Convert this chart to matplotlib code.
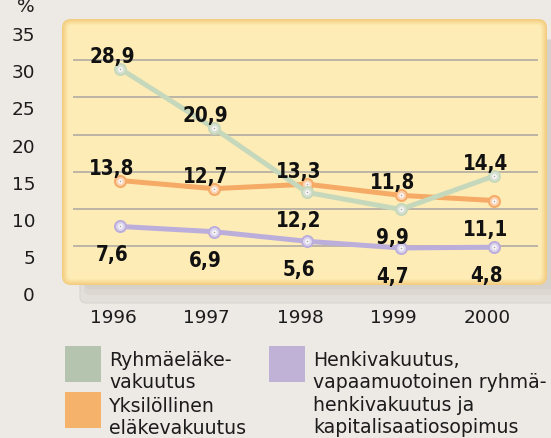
import matplotlib
matplotlib.use('Agg')
import matplotlib.pyplot as plt
import numpy as np
from matplotlib.patches import FancyBboxPatch, Rectangle
from matplotlib.transforms import ScaledTranslation

# ---- data ----
years = [1996, 1997, 1998, 1999, 2000]
ryhma = [28.9, 20.9, 12.2, 9.9, 14.4]
yksilo = [13.8, 12.7, 13.3, 11.8, 11.1]
henki = [7.6, 6.9, 5.6, 4.7, 4.8]
ryhma_pos = ['above', 'above', 'below', 'below', 'above']
yksilo_pos = ['above', 'above', 'above', 'above', 'below']
henki_pos = ['below'] * 5
yticks = [0, 5, 10, 15, 20, 25, 30, 35]
grid_vals = [5, 10, 15, 20, 25, 30]
legend_labels = ['Ryhmäeläke-\nvakuutus', 'Yksilöllinen\neläkevakuutus',
                 'Henkivakuutus,\nvapaamuotoinen ryhmä-\nhenkivakuutus ja\nkapitalisaatiosopimus']

# ---- style ----
W, H, DPI = 551, 438, 100
PT = 72.0 / DPI   # points per pixel
BG = '#ede9e5'
TXT = '#1c1c1c'
tick_font = dict(family='DejaVu Sans', size=13.3, color=TXT)
lab_font = dict(family='DejaVu Sans', stretch='condensed', size=14.8,
                weight='bold', color='#111111')

series = [
    (henki, henki_pos, '#bcaedb', '#ddd5ee', '#bfb2d6'),
    (yksilo, yksilo_pos, '#f5aa66', '#fbd3b2', '#f5b26b'),
    (ryhma, ryhma_pos, '#c6d8bb', '#d9e1d4', '#b5c4ae'),
]

fig = plt.figure(figsize=(W / DPI, H / DPI), dpi=DPI, facecolor=BG)

# background axes in pixel coordinates
bg = fig.add_axes([0, 0, 1, 1], zorder=0)
bg.set_xlim(0, W)
bg.set_ylim(H, 0)
bg.axis('off')

# shadow panel behind
bg.add_patch(FancyBboxPatch((80, 40), 500, 263, boxstyle='round,pad=0,rounding_size=6',
                            fc='#e2ded9', ec='#d8d4cf', lw=0.8))
bg.add_patch(FancyBboxPatch((84, 40), 496, 255, boxstyle='round,pad=0,rounding_size=6',
                            fc='#dcd7d1', ec='none'))
bg.add_patch(FancyBboxPatch((84, 40), 496, 249, boxstyle='round,pad=0,rounding_size=6',
                            fc='#d6d1cb', ec='none'))

# yellow panel with soft bevel
x0, y0, x1, y1 = 62, 19, 547, 285
c_out = np.array([0xf3, 0xcd, 0x7f]) / 255.
c_in = np.array([0xfe, 0xec, 0xb6]) / 255.
steps = 7
for i in range(steps):
    t = i / (steps - 1)
    col = c_out * (1 - t) + c_in * t
    ins = i * 1.0
    bg.add_patch(FancyBboxPatch((x0 + ins, y0 + ins), (x1 - x0) - 2 * ins, (y1 - y0) - 2 * ins,
                                boxstyle='round,pad=0,rounding_size=%g' % max(9 - ins, 2),
                                fc=col, ec='none'))

# percent sign (top cut)
bg.text(26, 12, '%', ha='center', va='baseline', **tick_font)

# legend
sq = 36
leg_pos = [(65, 346), (65, 392), (269, 346)]
leg_cols = [series[2][4], series[1][4], series[0][4]]
for (lx, ly), col, lab in zip(leg_pos, leg_cols, legend_labels):
    bg.add_patch(Rectangle((lx, ly), sq, sq, fc=col, ec='none'))
    bg.text(lx + 44, ly + 4.5, lab, ha='left', va='top', family='DejaVu Sans',
            size=13.6, color=TXT, linespacing=1.235)

# ---- main axes ----
ax_left, ax_right, ax_top, ax_bot = x0, x1, y0, y1
ax = fig.add_axes([ax_left / W, 1 - ax_bot / H, (ax_right - ax_left) / W, (ax_bot - ax_top) / H],
                  zorder=1)
ax.patch.set_alpha(0)
xstep = 93.5    # px per year
x_first = 120   # px of 1996
ypx = 7.413     # px per unit
y_zero = 282.8
ax.set_xlim(years[0] - (x_first - ax_left) / xstep, years[-1] + (ax_right - (x_first + 4 * xstep)) / xstep)
ax.set_ylim(-(ax_bot - y_zero) / ypx, (y_zero - ax_top) / ypx)
for s in ax.spines.values():
    s.set_visible(False)

gx0 = years[0] - (x_first - 72.7) / xstep
gx1 = years[-1] + (538 - (x_first + 4 * xstep)) / xstep
ax.hlines(grid_vals, gx0, gx1, color='#aaa5a0', lw=1.1, zorder=1)

ax.set_yticks(yticks)
ax.set_yticklabels([str(v) for v in yticks], **tick_font)
ax.set_xticks(years)
ax.set_xticklabels([str(v) for v in years], **tick_font)
ax.tick_params(axis='y', length=0, pad=(ax_left - 35) * PT)
ax.tick_params(axis='x', length=0, pad=(309 - ax_bot) * PT)
for lab in ax.get_yticklabels():
    lab.set_transform(lab.get_transform() + ScaledTranslation(0, -11 / DPI, fig.dpi_scale_trans))
for lab in ax.get_xticklabels():
    lab.set_transform(lab.get_transform() + ScaledTranslation(-7 / DPI, 0, fig.dpi_scale_trans))

for z, (vals, pos, lc, mc, _) in enumerate(series):
    zb = 3 + z * 2
    ax.plot(years, vals, color=lc, lw=5 * PT, solid_capstyle='round', zorder=zb)
    ax.plot(years, vals, 'o', ms=11 * PT, mfc=mc, mec=lc, mew=2 * PT, zorder=zb + 0.5)
    ax.plot(years, vals, 'o', ms=4.5 * PT, mfc='white', mec='none', zorder=zb + 0.6)
    ax.plot(years, vals, 'o', ms=1.8 * PT, mfc='#b0aaa5', mec='none', zorder=zb + 0.7)
    for xv, yv, p in zip(years, vals, pos):
        dy = 6 if p == 'above' else -35
        ax.annotate(('%.1f' % yv).replace('.', ','), (xv, yv), xytext=(-8, dy),
                    textcoords='offset pixels', ha='center', va='baseline',
                    zorder=20, **lab_font)

fig.savefig('out.png', dpi=DPI, facecolor=BG)
